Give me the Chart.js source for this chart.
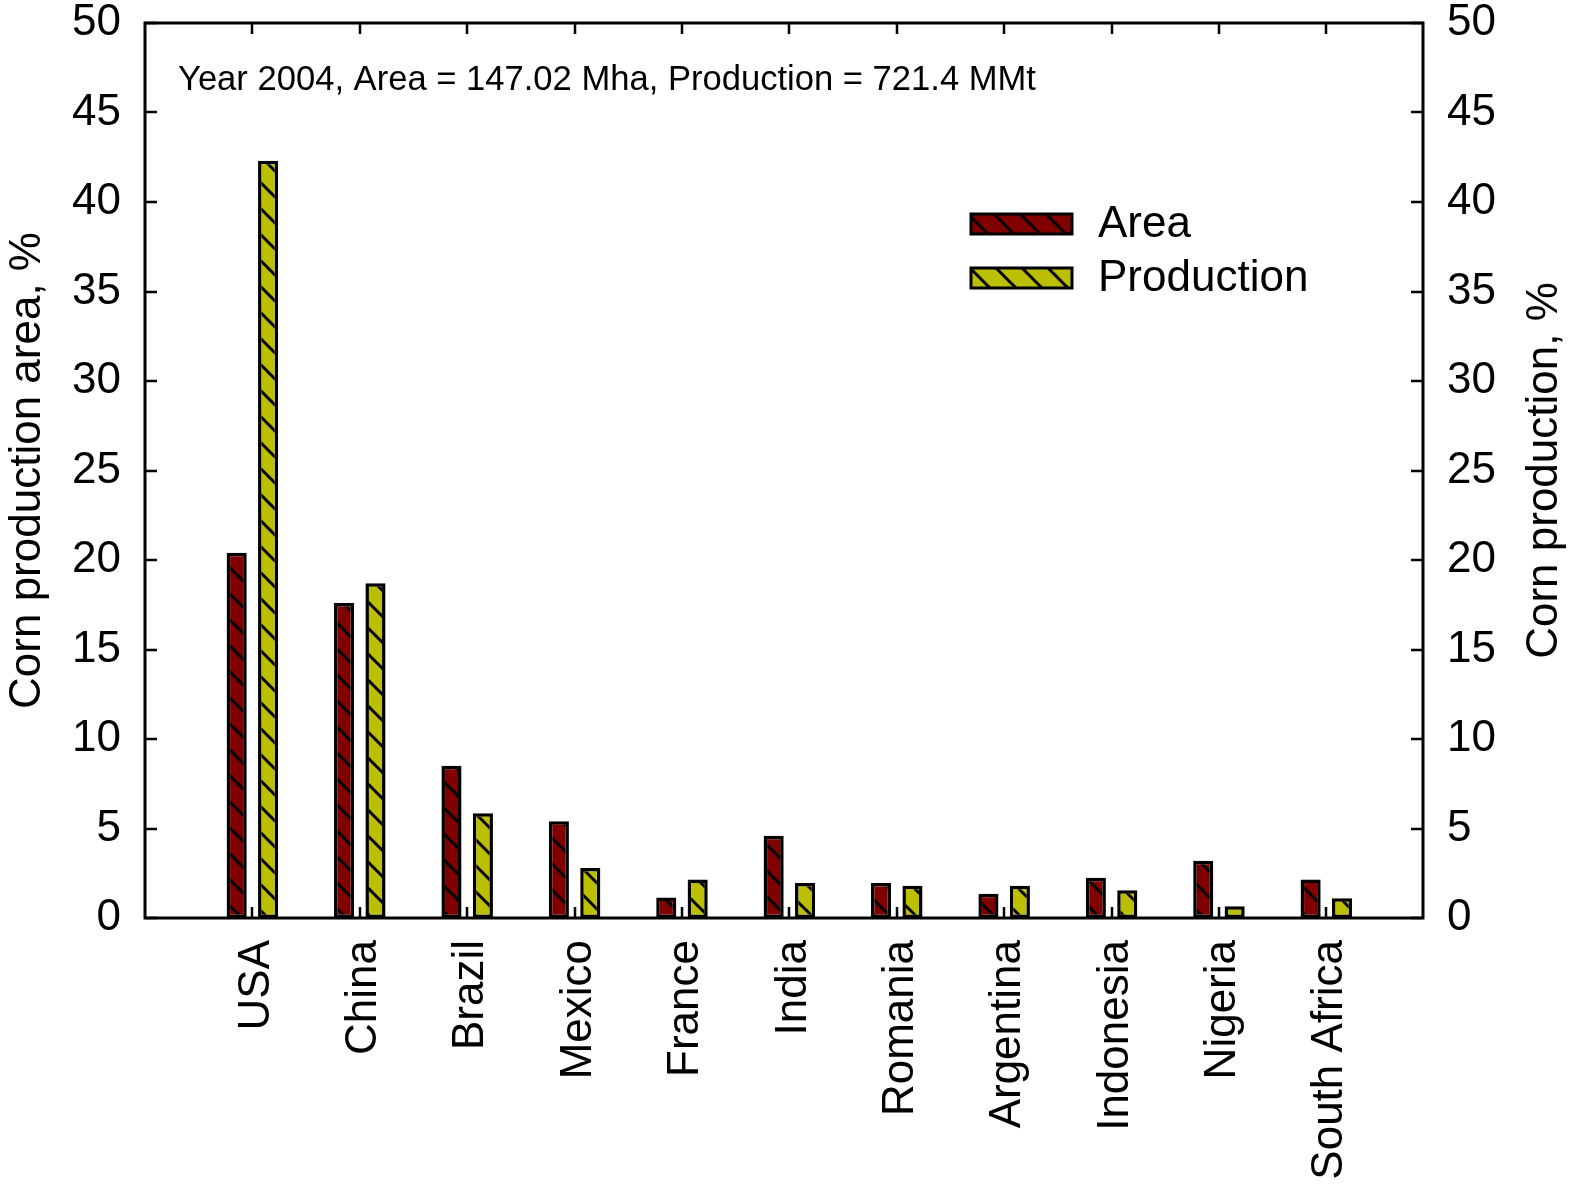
<!DOCTYPE html>
<html>
<head>
<meta charset="utf-8">
<script src="https://cdn.jsdelivr.net/npm/chart.js@4.4.1/dist/chart.umd.min.js"></script>
<style>
  body { margin: 0; background: #fff; }
  #wrap { width: 1570px; height: 1187px; }
</style>
</head>
<body>
<div id="wrap"><canvas id="cornChart" width="1570" height="1187"></canvas></div>
<script>
// data
const countries = ["USA", "China", "Brazil", "Mexico", "France", "India", "Romania", "Argentina", "Indonesia", "Nigeria", "South Africa"];
const areaPct = [20.4, 17.6, 8.5, 5.4, 1.15, 4.6, 1.95, 1.35, 2.25, 3.2, 2.15];
const prodPct = [42.3, 18.7, 5.85, 2.8, 2.15, 1.95, 1.8, 1.8, 1.55, 0.65, 1.1];
const yTicks = [0, 5, 10, 15, 20, 25, 30, 35, 40, 45, 50];

const areaColor = "#800000", prodColor = "#bcbe00";
const fontFam = "'Liberation Sans', Arial, sans-serif";

function hatch(color){
    const s = 26;
    const c = document.createElement("canvas");
    c.width = s; c.height = s;
    const g = c.getContext("2d");
    g.fillStyle = color;
    g.fillRect(0, 0, s, s);
    g.strokeStyle = "#000";
    g.lineWidth = 3;
    for (let k = -1; k <= 1; k++) {
        g.beginPath();
        g.moveTo(k * s - 2, -2);
        g.lineTo(k * s + s + 2, s + 2);
        g.stroke();
    }
    return document.getElementById("cornChart").getContext("2d").createPattern(c, "repeat");
}

const areaFill = hatch(areaColor), prodFill = hatch(prodColor);

//frame, inward ticks, titles, legend, note
const decor = {
    id: "decor",
    afterDraw(chart){
        const ctx = chart.ctx, a = chart.chartArea;
        const x = chart.scales.x, y = chart.scales.y;
        ctx.save();
        ctx.strokeStyle = "#000";
        ctx.lineWidth = 3;
        ctx.strokeRect(a.left, a.top, a.right - a.left, a.bottom - a.top);
        ctx.lineWidth = 2.5;
        ctx.beginPath();
        yTicks.forEach(v => {
            const py = Math.round(y.getPixelForValue(v));
            ctx.moveTo(a.left, py); ctx.lineTo(a.left + 12, py);
            ctx.moveTo(a.right, py); ctx.lineTo(a.right - 12, py);
        });
        countries.forEach((c, i) => {
            const px = Math.round(x.getPixelForValue(i + 1));
            ctx.moveTo(px, a.bottom); ctx.lineTo(px, a.bottom - 11);
            ctx.moveTo(px, a.top); ctx.lineTo(px, a.top + 11);
        });
        ctx.stroke();

        ctx.fillStyle = "#000";
        ctx.font = "44px " + fontFam;
        ctx.textAlign = "center";
        ctx.textBaseline = "middle";
        const midY = (a.top + a.bottom) / 2;
        ctx.save();
        ctx.translate(28, midY);
        ctx.rotate(-Math.PI / 2);
        ctx.fillText("Corn production area, %", 0, 0);
        ctx.restore();
        ctx.save();
        ctx.translate(1545, midY);
        ctx.rotate(-Math.PI / 2);
        ctx.fillText("Corn production, %", 0, 0);
        ctx.restore();

        // legend
        const items = [["Area", areaFill, 224], ["Production", prodFill, 278]];
        items.forEach(it => {
            ctx.fillStyle = it[1];
            ctx.fillRect(971, it[2] - 10, 101, 20);
            ctx.lineWidth = 3;
            ctx.strokeRect(971, it[2] - 10, 101, 20);
            ctx.fillStyle = "#000";
            ctx.textAlign = "left";
            ctx.fillText(it[0], 1098, it[2] + 1);
        });

        ctx.font = "34.6px " + fontFam;
        ctx.textAlign = "left";
        ctx.fillText("Year 2004, Area = 147.02 Mha, Production = 721.4 MMt", 178, 80);
        ctx.restore();
    }
};

const tickFont = { family: fontFam, size: 44 };

new Chart(document.getElementById("cornChart"), {
    type: "bar",
    data: {
        datasets: [{
            label: "Area",
            data: areaPct.map((v, i) => ({ x: i + 1, y: v })),
            backgroundColor: areaFill,
            borderColor: "#000",
            borderWidth: 3.5,
            borderSkipped: false,
            yAxisID: "y"
        }, {
            label: "Production",
            data: prodPct.map((v, i) => ({ x: i + 1, y: v })),
            backgroundColor: prodFill,
            borderColor: "#000",
            borderWidth: 3.5,
            borderSkipped: false,
            yAxisID: "y1"
        }]
    },
    options: {
        responsive: false,
        animation: false,
        categoryPercentage: 0.585,
        barPercentage: 0.64,
        layout: { padding: { top: 23, left: 0, right: 0, bottom: 0 } },
        plugins: { legend: { display: false }, tooltip: { enabled: false } },
        scales: {
            x: {
                type: "linear",
                offset: false,
                min: 0,
                max: 11.9,
                grid: { display: false, drawTicks: false },
                border: { display: false },
                afterBuildTicks: s => { s.ticks = countries.map((c, i) => ({ value: i + 1 })); },
                afterFit: s => { s.height = 269; s.paddingLeft = 0; s.paddingRight = 0; },
                ticks: {
                    autoSkip: false,
                    maxRotation: 90,
                    minRotation: 90,
                    padding: 22,
                    labelOffset: 4,
                    color: "#000",
                    font: tickFont,
                    callback: v => countries[v - 1] || ""
                }
            },
            y: {
                position: "left",
                min: 0, max: 50,
                grid: { display: false, drawTicks: false },
                border: { display: false },
                afterFit: s => { s.width = 145; s.paddingTop = 0; s.paddingBottom = 0; },
                ticks: { stepSize: 5, padding: 24, color: "#000", font: tickFont }
            },
            y1: {
                position: "right",
                min: 0, max: 50,
                grid: { display: false, drawTicks: false },
                border: { display: false },
                afterFit: s => { s.width = 147; s.paddingTop = 0; s.paddingBottom = 0; },
                ticks: { stepSize: 5, padding: 24, color: "#000", font: tickFont }
            }
        }
    },
    plugins: [decor]
});
</script>
</body>
</html>
